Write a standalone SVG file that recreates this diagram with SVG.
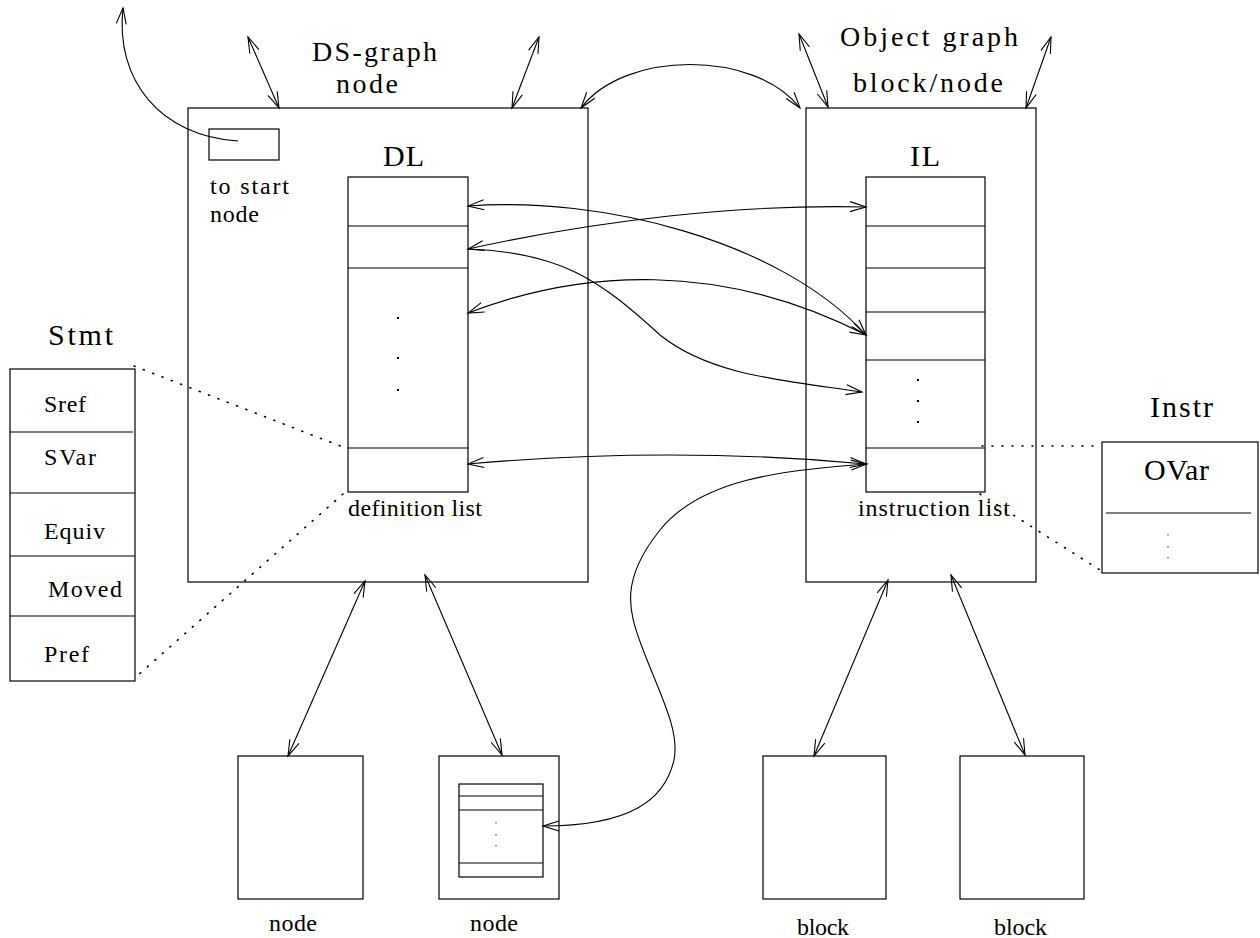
<svg xmlns="http://www.w3.org/2000/svg" width="1260" height="938" viewBox="0 0 1260 938">
<style>
.b{fill:none;stroke:#000;stroke-width:1.2}
.c{fill:none;stroke:#000;stroke-width:1.1}
.d{fill:none;stroke:#000;stroke-width:1.6;stroke-dasharray:1 9;stroke-linecap:round}
.big{font-family:"Liberation Serif",serif;font-size:30px;fill:#000}
.hd{font-family:"Liberation Serif",serif;font-size:28px;fill:#000}
.med{font-family:"Liberation Serif",serif;font-size:24px;fill:#000}
.dot{fill:#000}
</style>
<defs>
<marker id="ah" viewBox="-18 -8 20 16" refX="0" refY="0" markerWidth="20" markerHeight="16" markerUnits="userSpaceOnUse" orient="auto-start-reverse" overflow="visible">
<path d="M-16,-5 L0,0 L-16,5" fill="none" stroke="#000" stroke-width="1.1"/>
</marker>
</defs>
<rect width="1260" height="938" fill="#fff"/>

<g id="ds-graph-node">
<rect class="b" x="188" y="108" width="400" height="474"/>
<text class="hd" x="312" y="61" textLength="125" lengthAdjust="spacing">DS-graph</text>
<text class="hd" x="336" y="93" textLength="62" lengthAdjust="spacing">node</text>
<rect class="b" x="209" y="129" width="70" height="31"/>
<text class="med" x="210" y="194" textLength="79" lengthAdjust="spacing">to start</text>
<text class="med" x="210" y="222" textLength="49" lengthAdjust="spacing">node</text>
<text class="big" x="383" y="166" textLength="41" lengthAdjust="spacing">DL</text>
<g id="dl-list">
<rect class="b" x="348" y="177" width="120" height="315"/>
<line class="b" x1="348" y1="226" x2="468" y2="226"/>
<line class="b" x1="348" y1="268" x2="468" y2="268"/>
<line class="b" x1="348" y1="448" x2="468" y2="448"/>
<rect class="dot" x="397" y="317" width="2" height="2"/>
<rect class="dot" x="397" y="357" width="2" height="2"/>
<rect class="dot" x="397" y="389" width="2" height="2"/>
</g>
<text class="med" x="348" y="516" textLength="134" lengthAdjust="spacing">definition list</text>
</g>

<g id="object-graph-node">
<rect class="b" x="806" y="108" width="230" height="474"/>
<text class="hd" x="840" y="46" textLength="178" lengthAdjust="spacing">Object graph</text>
<text class="hd" x="853" y="92" textLength="150" lengthAdjust="spacing">block/node</text>
<text class="big" x="910" y="166" textLength="30" lengthAdjust="spacing">IL</text>
<g id="il-list">
<rect class="b" x="866" y="177" width="119" height="315"/>
<line class="b" x1="866" y1="226" x2="985" y2="226"/>
<line class="b" x1="866" y1="268" x2="985" y2="268"/>
<line class="b" x1="866" y1="312" x2="985" y2="312"/>
<line class="b" x1="866" y1="360" x2="985" y2="360"/>
<line class="b" x1="866" y1="448" x2="985" y2="448"/>
<rect class="dot" x="917" y="379" width="2" height="2"/>
<rect class="dot" x="917" y="400" width="2" height="2"/>
<rect class="dot" x="917" y="421" width="2" height="2"/>
</g>
<text class="med" x="858" y="516" textLength="152" lengthAdjust="spacing">instruction list</text>
</g>

<g id="stmt">
<text class="big" x="48" y="345" textLength="65" lengthAdjust="spacing">Stmt</text>
<rect class="b" x="10" y="369" width="125" height="312"/>
<line class="b" x1="10" y1="432" x2="133" y2="432"/>
<line class="b" x1="10" y1="493" x2="135" y2="493"/>
<line class="b" x1="10" y1="556" x2="135" y2="556"/>
<line class="b" x1="10" y1="616" x2="135" y2="616"/>
<text class="med" x="44" y="412" textLength="42" lengthAdjust="spacing">Sref</text>
<text class="med" x="44" y="465" textLength="52" lengthAdjust="spacing">SVar</text>
<text class="med" x="44" y="539" textLength="61" lengthAdjust="spacing">Equiv</text>
<text class="med" x="48" y="597" textLength="74" lengthAdjust="spacing">Moved</text>
<text class="med" x="44" y="662" textLength="45" lengthAdjust="spacing">Pref</text>
</g>

<g id="instr">
<text class="big" x="1150" y="417" textLength="63" lengthAdjust="spacing">Instr</text>
<rect class="b" x="1102" y="442" width="156" height="131"/>
<line x1="1106" y1="513" x2="1251" y2="513" stroke="#555" stroke-width="1.3"/>
<text class="big" x="1144" y="480" textLength="65" lengthAdjust="spacing">OVar</text>
<rect x="1167.5" y="534" width="1" height="1.5" fill="#333"/>
<rect x="1167.5" y="546" width="1" height="1.5" fill="#333"/>
<rect x="1167.5" y="557" width="1" height="1.5" fill="#333"/>
</g>

<g id="node-1">
<rect class="b" x="238" y="756" width="125" height="143"/>
<text class="med" x="269" y="931" textLength="48" lengthAdjust="spacing">node</text>
</g>

<g id="node-2">
<rect class="b" x="439" y="756" width="120" height="143"/>
<rect class="b" x="459" y="784" width="84" height="93"/>
<line class="b" x1="459" y1="796" x2="543" y2="796"/>
<line class="b" x1="459" y1="810" x2="543" y2="810"/>
<line class="b" x1="459" y1="863" x2="543" y2="863"/>
<rect x="495.5" y="822" width="1" height="1.5" fill="#333"/>
<rect x="495.5" y="834" width="1" height="1.5" fill="#333"/>
<rect x="495.5" y="845" width="1" height="1.5" fill="#333"/>
<text class="med" x="470" y="931" textLength="48" lengthAdjust="spacing">node</text>
</g>

<g id="block-1">
<rect class="b" x="763" y="756" width="123" height="143"/>
<text class="med" x="797" y="935" textLength="52" lengthAdjust="spacing">block</text>
</g>

<g id="block-2">
<rect class="b" x="960" y="756" width="124" height="143"/>
<text class="med" x="994" y="935" textLength="53" lengthAdjust="spacing">block</text>
</g>

<g id="connectors">
<line class="c" x1="248" y1="37" x2="279" y2="108" marker-start="url(#ah)" marker-end="url(#ah)"/>
<line class="c" x1="539" y1="37" x2="512" y2="108" marker-start="url(#ah)" marker-end="url(#ah)"/>
<line class="c" x1="799" y1="34" x2="828" y2="107" marker-start="url(#ah)" marker-end="url(#ah)"/>
<line class="c" x1="1051" y1="37" x2="1026" y2="108" marker-start="url(#ah)" marker-end="url(#ah)"/>
<path class="c" d="M581 108 C625 50,755 50,800 108" marker-start="url(#ah)" marker-end="url(#ah)"/>
<path class="c" d="M238 141 C160 136,115 80,123 8" marker-end="url(#ah)"/>
<line class="c" x1="365" y1="581" x2="288" y2="756" marker-start="url(#ah)" marker-end="url(#ah)"/>
<line class="c" x1="425" y1="575" x2="502" y2="755" marker-start="url(#ah)" marker-end="url(#ah)"/>
<line class="c" x1="888" y1="580" x2="814" y2="756" marker-start="url(#ah)" marker-end="url(#ah)"/>
<line class="c" x1="951" y1="575" x2="1025" y2="755" marker-start="url(#ah)" marker-end="url(#ah)"/>
<path class="c" d="M468 206 C600 196,780 240,866 335" marker-start="url(#ah)" marker-end="url(#ah)"/>
<path class="c" d="M468 249 C600 220,740 204,866 207" marker-start="url(#ah)" marker-end="url(#ah)"/>
<path class="c" d="M468 313 C580 270,720 260,866 335" marker-start="url(#ah)" marker-end="url(#ah)"/>
<path class="c" d="M468 249 C560 252,600 280,660 335 C710 375,780 380,862 392" marker-end="url(#ah)"/>
<path class="c" d="M468 464 C600 452,740 452,866 464" marker-start="url(#ah)" marker-end="url(#ah)"/>
<path class="c" d="M867 464 C780 470,700 480,660 530 C620 580,628 610,642 647 C660 695,680 730,674 760 C665 800,630 826,543 826" marker-start="url(#ah)" marker-end="url(#ah)"/>
<line class="d" x1="134" y1="366" x2="343" y2="447"/>
<line class="d" x1="343" y1="494" x2="137" y2="676"/>
<line class="d" x1="982" y1="446" x2="1102" y2="446"/>
<line class="d" x1="980" y1="494" x2="1100" y2="570"/>
</g>
</svg>
